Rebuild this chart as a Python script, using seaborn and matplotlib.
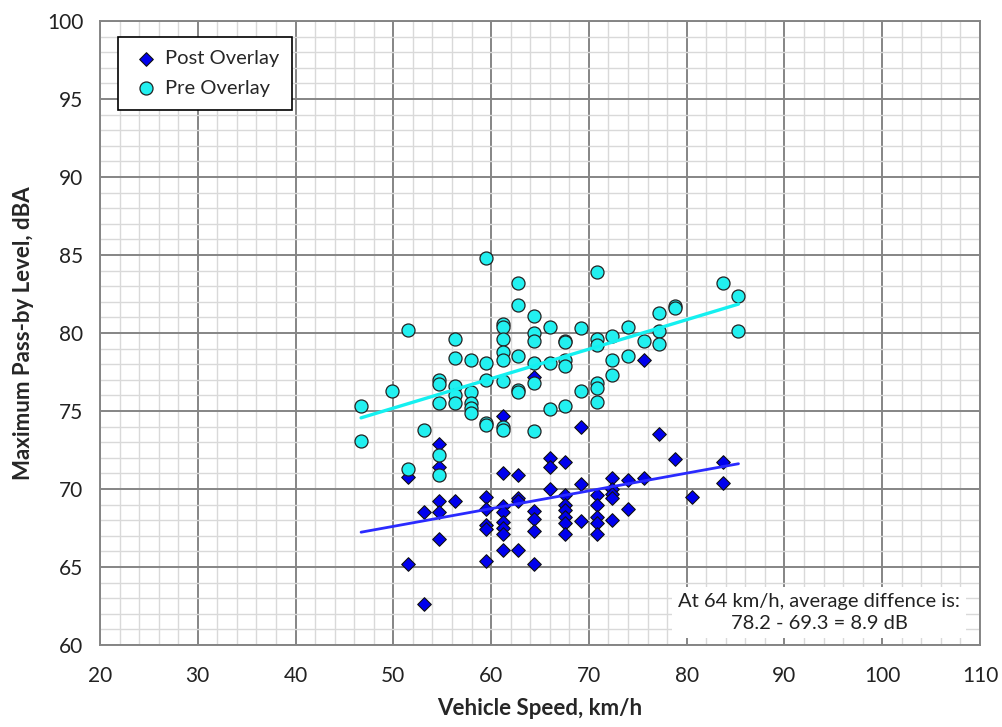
import numpy as np
import pandas as pd
import matplotlib
matplotlib.use("Agg")
import matplotlib.pyplot as plt
from matplotlib.ticker import MultipleLocator
import seaborn as sns

# ---------------- data ----------------
post_speed = [51.5, 51.5,
              53.1, 53.1,
              54.7, 54.7, 54.7, 54.7, 54.7,
              56.3,
              59.5, 59.5, 59.5, 59.5, 59.5,
              61.2, 61.2, 61.2, 61.2, 61.2, 61.2, 61.2, 61.2,
              62.8, 62.8, 62.8, 62.8,
              64.4, 64.4, 64.4, 64.4, 64.4,
              66.0, 66.0, 66.0,
              67.6, 67.6, 67.6, 67.6, 67.6, 67.6, 67.6,
              69.2, 69.2, 69.2,
              70.8, 70.8, 70.8, 70.8, 70.8,
              72.4, 72.4, 72.4, 72.4, 72.4,
              74.0, 74.0,
              75.6, 75.6,
              77.2,
              78.8,
              80.5,
              83.7, 83.7]
post_level = [70.8, 65.2,
              68.5, 62.6,
              72.9, 71.4, 69.25, 68.5, 66.8,
              69.2,
              69.5, 68.75, 67.7, 67.45, 65.4,
              74.7, 71.0, 68.9, 68.5, 67.9, 67.5, 67.1, 66.1,
              70.9, 69.4, 69.2, 66.1,
              77.2, 68.6, 68.1, 67.3, 65.2,
              72.0, 71.4, 70.0,
              71.7, 69.6, 69.0, 68.65, 68.2, 67.8, 67.1,
              74.0, 70.3, 67.95,
              69.6, 69.0, 68.2, 67.8, 67.1,
              70.7, 70.0, 69.7, 69.4, 68.0,
              70.6, 68.7,
              78.3, 70.7,
              73.5,
              71.9,
              69.5,
              71.7, 70.4]

pre_speed = [46.7, 46.7,
             49.9,
             51.5, 51.5,
             53.1,
             54.7, 54.7, 54.7, 54.7, 54.7,
             56.3, 56.3, 56.3, 56.3, 56.3,
             57.9, 57.9, 57.9, 57.9, 57.9,
             59.5, 59.5, 59.5, 59.5, 59.5,
             61.2, 61.2, 61.2, 61.2, 61.2, 61.2, 61.2, 61.2,
             62.8, 62.8, 62.8, 62.8, 62.8,
             64.4, 64.4, 64.4, 64.4, 64.4, 64.4,
             66.0, 66.0, 66.0,
             67.6, 67.6, 67.6, 67.6, 67.6,
             69.2, 69.2,
             70.8, 70.8, 70.8, 70.8, 70.8, 70.8,
             72.4, 72.4, 72.4,
             74.0, 74.0,
             75.6,
             77.2, 77.2, 77.2,
             78.8, 78.8,
             83.7,
             85.3, 85.3]
pre_level = [75.3, 73.1,
             76.3,
             80.2, 71.3,
             73.8,
             77.0, 76.7, 75.5, 72.2, 70.9,
             79.6, 78.4, 76.6, 76.0, 75.5,
             78.3, 76.2, 75.5, 75.2, 74.9,
             84.8, 78.1, 77.0, 74.25, 74.1,
             80.6, 80.4, 79.6, 78.8, 78.3, 76.9, 74.0, 73.8,
             83.2, 81.8, 78.5, 76.35, 76.2,
             81.1, 80.0, 79.5, 78.1, 76.8, 73.7,
             80.4, 78.1, 75.1,
             79.5, 79.4, 78.3, 77.9, 75.3,
             80.3, 76.3,
             83.9, 79.6, 79.2, 76.8, 76.45, 75.6,
             79.8, 78.3, 77.3,
             80.4, 78.5,
             79.5,
             81.3, 80.1, 79.3,
             81.7, 81.6,
             83.2,
             82.4, 80.1]

x_ticks = [20, 30, 40, 50, 60, 70, 80, 90, 100, 110]
y_ticks = [60, 65, 70, 75, 80, 85, 90, 95, 100]
note_text = "At 64 km/h, average diffence is:\n78.2 - 69.3 = 8.9 dB"

post_df = pd.DataFrame({"speed": post_speed, "level": post_level})
pre_df = pd.DataFrame({"speed": pre_speed, "level": pre_level})

# linear trends (fitted from the data)
x_line = np.array([min(min(post_speed), min(pre_speed)), max(max(post_speed), max(pre_speed))])
post_fit = np.polyfit(post_df.speed, post_df.level, 1)
pre_fit = np.polyfit(pre_df.speed, pre_df.level, 1)
post_line = pd.DataFrame({"speed": x_line, "level": np.polyval(post_fit, x_line)})
pre_line = pd.DataFrame({"speed": x_line, "level": np.polyval(pre_fit, x_line)})

# ---------------- style ----------------
sns.set_theme(style="white")
plt.rcParams["font.family"] = ["Lato", "DejaVu Sans"]

fig = plt.figure(figsize=(10.02, 7.27), dpi=100)
ax = fig.add_axes([100 / 1002, 82 / 727, 880 / 1002, 624 / 727])

MAJOR = "#858585"
MINOR = "#d9d9d9"

ax.set_xlim(20, 110)
ax.set_ylim(60, 100)
ax.xaxis.set_major_locator(MultipleLocator(10))
ax.xaxis.set_minor_locator(MultipleLocator(2))
ax.yaxis.set_major_locator(MultipleLocator(5))
ax.yaxis.set_minor_locator(MultipleLocator(1))
ax.set_xticks(x_ticks)
ax.set_yticks(y_ticks)
ax.grid(which="minor", color=MINOR, linewidth=1.0, zorder=0)
ax.grid(which="major", color=MAJOR, linewidth=1.4, zorder=0)
ax.set_axisbelow(True)
for s in ax.spines.values():
    s.set_color(MAJOR)
    s.set_linewidth(1.4)

ax.tick_params(axis="both", which="major", direction="inout", length=8,
               color=MAJOR, width=1.2, labelsize=15, labelcolor="#222222")
ax.tick_params(axis="x", which="major", pad=11)
ax.tick_params(axis="y", which="major", pad=8)
ax.tick_params(axis="both", which="minor", direction="inout", length=4,
               color=MAJOR, width=1.0)

sns.scatterplot(data=post_df, x="speed", y="level", ax=ax, marker="D", s=48,
                color="#0000ee", edgecolor="#111111", linewidth=0.8,
                label="Post Overlay", zorder=3)
sns.scatterplot(data=pre_df, x="speed", y="level", ax=ax, marker="o", s=88,
                color="#22f0f0", edgecolor="#222222", linewidth=0.9,
                label="Pre Overlay", zorder=4)
sns.lineplot(data=post_line, x="speed", y="level", ax=ax, color="#2a2aff",
             linewidth=2.0, zorder=5, legend=False)
sns.lineplot(data=pre_line, x="speed", y="level", ax=ax, color="#14f0f0",
             linewidth=2.4, zorder=5, legend=False)

ax.set_xlabel("Vehicle Speed, km/h", fontsize=16, fontweight="bold", labelpad=9)
ax.set_ylabel("Maximum Pass-by Level, dBA", fontsize=16, fontweight="bold", labelpad=9)

leg = ax.legend(loc="upper left", bbox_to_anchor=(0.02, 0.974), borderaxespad=0,
                frameon=True, fancybox=False, edgecolor="black", framealpha=1,
                fontsize=14.5, handletextpad=0.2, labelspacing=0.6,
                borderpad=0.65, handlelength=1.5)
leg.get_frame().set_linewidth(1.2)
leg.set_zorder(10)

ax.text(0.817, 0.052, note_text, transform=ax.transAxes, ha="center", va="center",
        fontsize=14.5, color="#222222", linespacing=1.3, zorder=9,
        bbox=dict(boxstyle="square,pad=0.3", facecolor="white", edgecolor="none"))

fig.savefig("out.png", dpi=100)
